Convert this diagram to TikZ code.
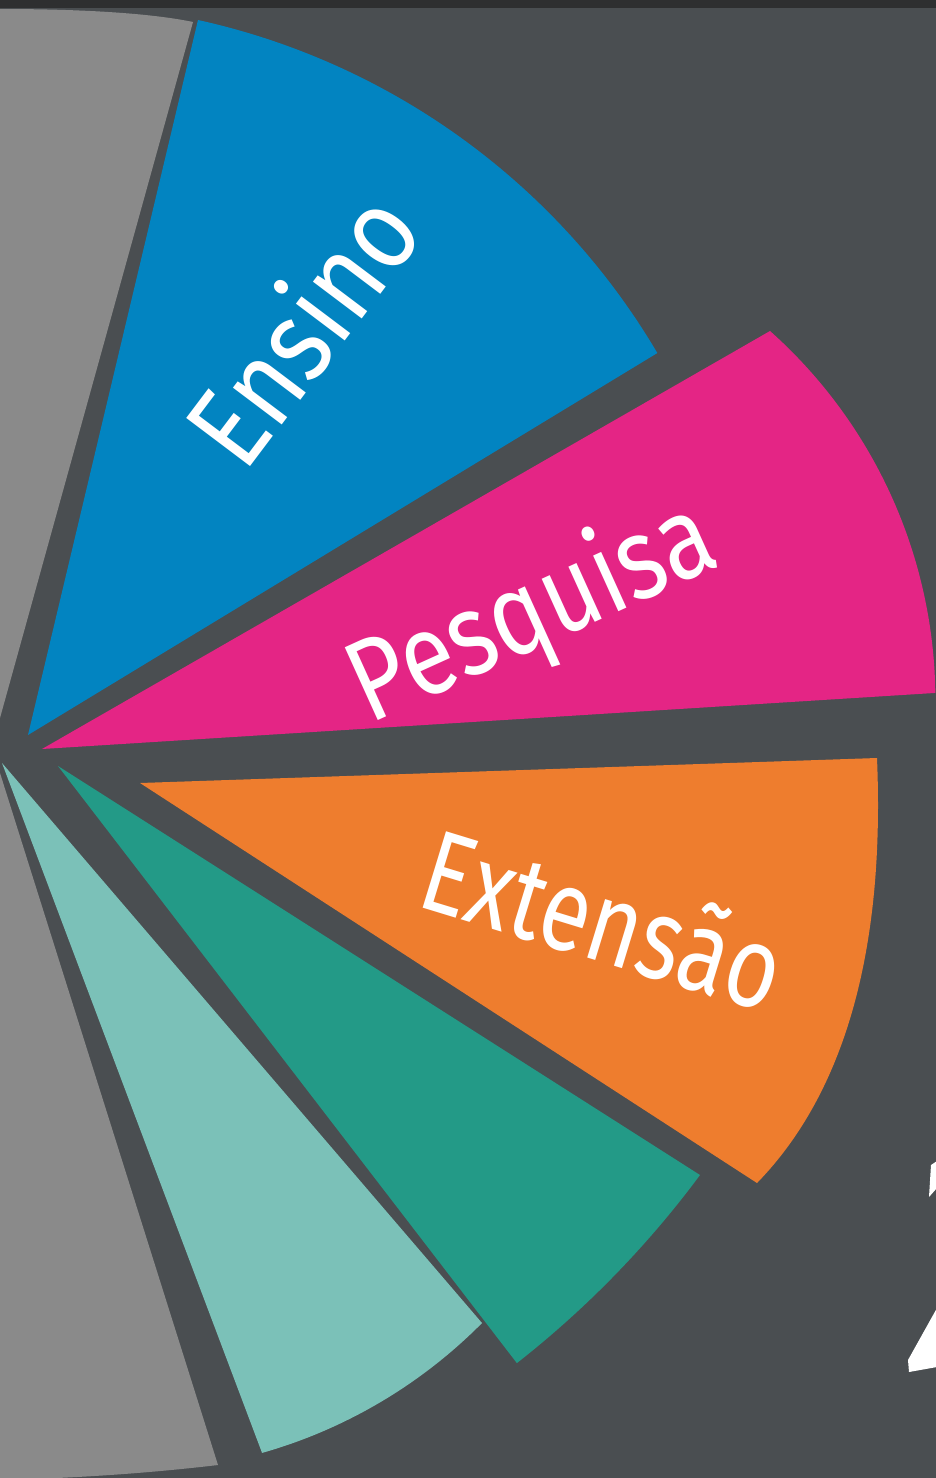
\documentclass[tikz,border=0pt]{standalone}
\usepackage{fontspec}
\newfontfamily\labelfont{Fira Sans}
\definecolor{bgcol}{HTML}{4A4E51}
\definecolor{stripcol}{HTML}{2E2F30}
\definecolor{graycol}{HTML}{8A8A8A}
\definecolor{bluecol}{HTML}{0284C1}
\definecolor{pinkcol}{HTML}{E42585}
\definecolor{orangecol}{HTML}{EE7D2E}
\definecolor{tealcol}{HTML}{239A87}
\definecolor{lighttealcol}{HTML}{7BC1B8}
\begin{document}
\begin{tikzpicture}[x=1pt,y=-1pt,
  lbl/.style={text=white, inner sep=0pt, anchor=base west,
    font=\labelfont\fontsize{116}{120}\selectfont}]
\useasboundingbox (0,0) rectangle (936,1478);
\clip (0,0) rectangle (936,1478);
\fill[bgcol] (0,0) rectangle (936,1478);
\fill[stripcol] (0,0) rectangle (936,8);
% top grey wedge
\fill[graycol] (0,9) .. controls (80,9) and (150,13) .. (193,22) -- (0,718) -- cycle;
% blue wedge
\fill[bluecol] (28,735) -- (198,20) arc[start angle=-77.57, end angle=-30.54, radius=711] -- cycle;
% pink wedge
\fill[pinkcol] (42,749) -- (770,331) arc[start angle=-48.3, end angle=-0.8, radius=494] -- cycle;
% orange wedge
\fill[orangecol] (140,783) -- (877,758) .. controls (882,880) and (872,1065) .. (757,1183) -- cycle;
% dark teal wedge
\fill[tealcol] (58,766) -- (700,1175) arc[start angle=36.57, end angle=51.9, radius=984] -- cycle;
% light teal wedge
\fill[lighttealcol] (2,763) -- (482,1323) arc[start angle=44.72, end angle=74.14, radius=503] -- cycle;
% bottom grey wedge
\fill[graycol] (0,773) -- (218,1465) .. controls (150,1473) and (80,1478) .. (0,1480) -- cycle;
% white fragments at right edge
\fill[white] (931,1165) -- (937,1161) -- (937,1188) -- (929,1197) -- cycle;
\fill[white] (937,1308) -- (908,1360) -- (909,1372) -- (937,1367) -- cycle;
% labels
\node[lbl, rotate=53] (ensino) at (244.4,474.8) {\scalebox{0.86}[1]{Ensino}};
\node[lbl, rotate=24.4] (pesquisa) at (369.5,724.5) {\scalebox{0.83}[1]{Pesquisa}};
\node[lbl, rotate=-17] (extensao) at (414.3,905.3) {\scalebox{0.78}[1]{Extensão}};
\end{tikzpicture}
\end{document}
